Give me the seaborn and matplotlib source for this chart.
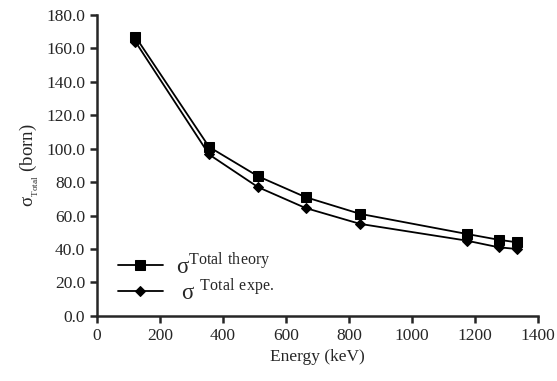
import matplotlib
matplotlib.use("Agg")
import matplotlib.pyplot as plt
import seaborn as sns
import pandas as pd
from matplotlib.ticker import FormatStrFormatter

energy = [122, 356, 511, 662, 835, 1173, 1275, 1332]
sigma_theory = [167.0, 101.0, 83.5, 71.0, 61.0, 49.0, 45.5, 44.0]
sigma_expe = [164.0, 96.5, 77.0, 64.5, 55.0, 45.0, 41.0, 40.0]
x_ticks = [0, 200, 400, 600, 800, 1000, 1200, 1400]
y_ticks = [0, 20, 40, 60, 80, 100, 120, 140, 160, 180]

sns.set_style("ticks")
plt.rcParams['font.family'] = ['Liberation Serif', 'DejaVu Serif']
plt.rcParams['mathtext.fontset'] = 'custom'
plt.rcParams['mathtext.rm'] = 'Liberation Serif'

df = pd.DataFrame({
    "energy": energy * 2,
    "sigma": sigma_theory + sigma_expe,
    "series": ["theory"] * len(energy) + ["expe"] * len(energy),
})

fig = plt.figure(figsize=(5.57, 3.81), dpi=100)
ax = fig.add_axes([0.174, 0.171, 0.792, 0.790])

sns.lineplot(data=df[df.series == "theory"], x="energy", y="sigma", ax=ax,
             color="black", marker="s", markersize=7, linewidth=1.3,
             markeredgecolor="black", label=r"σ$^{\mathrm{Total\ theory}}$")
sns.lineplot(data=df[df.series == "expe"], x="energy", y="sigma", ax=ax,
             color="black", marker="D", markersize=5.5, linewidth=1.3,
             markeredgecolor="black", label=r" σ $^{\mathrm{Total\ expe.}}$")

ax.set_xlim(0, 1400)
ax.set_ylim(0, 180)
ax.set_xticks(x_ticks)
ax.set_yticks(y_ticks)
ax.yaxis.set_major_formatter(FormatStrFormatter("%.1f"))
for s in ["top", "right"]:
    ax.spines[s].set_visible(False)
for s in ["left", "bottom"]:
    ax.spines[s].set_linewidth(1.8)
ax.tick_params(axis="both", direction="out", length=5, width=1.8, labelsize=12.5)
ax.set_xlabel("Energy (keV)", fontsize=12.5)
ax.set_ylabel(r"σ$_{_{\mathrm{Total}}}$ (born)", fontsize=13.5)

leg = ax.legend(loc="lower left", bbox_to_anchor=(0.0, -0.03), frameon=False,
                fontsize=16.5, handlelength=2.0, labelspacing=0.02,
                handletextpad=0.55)

fig.savefig("out.png", dpi=100)
